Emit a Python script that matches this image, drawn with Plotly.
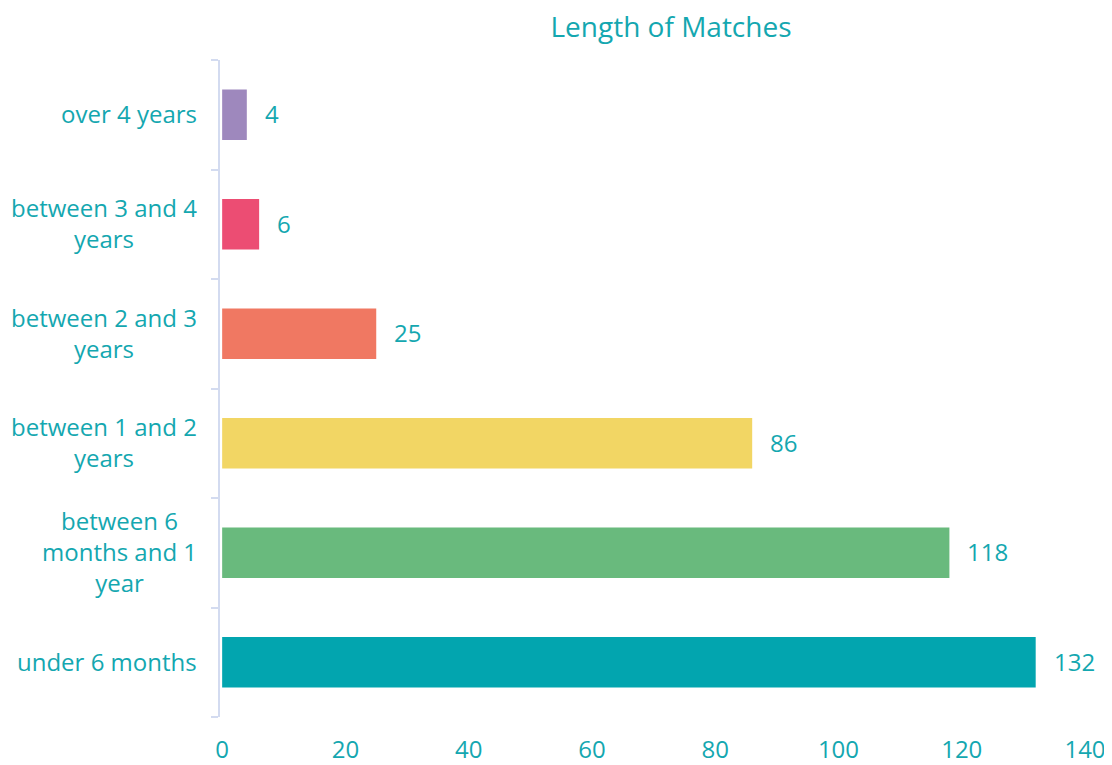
import plotly.graph_objects as go

categories = ["under 6 months", "between 6 months and 1 year", "between 1 and 2 years",
              "between 2 and 3 years", "between 3 and 4 years", "over 4 years"]
tick_labels = ["under 6 months", "between 6<br>months and 1<br>year", "between 1 and 2<br>years",
               "between 2 and 3<br>years", "between 3 and 4<br>years", "over 4 years"]
values = [132, 118, 86, 25, 6, 4]
colors = ["#02A5AF", "#69BA7D", "#F2D664", "#F07862", "#EC4D73", "#9E88BD"]
x_ticks = [0, 20, 40, 60, 80, 100, 120, 140]

TEXT = "#14A7B0"
AXIS = "#D3DBF0"
FONT = "Open Sans"

W, H = 1104, 757  # page body has an 8px margin

fig = go.Figure(go.Bar(
    x=values, y=categories, orientation="h",
    marker=dict(color=colors, line=dict(width=0)),
    hoverinfo="x+y",
))

annotations = []
for cat, lab in zip(categories, tick_labels):
    annotations.append(dict(x=0, xref="paper", y=cat, yref="y", text=lab,
                            xanchor="right", yanchor="middle", align="center",
                            xshift=-21, yshift=1, showarrow=False,
                            font=dict(family=FONT, size=24, color=TEXT)))
for cat, v in zip(categories, values):
    annotations.append(dict(x=v, xref="x", y=cat, yref="y", text=str(v),
                            xanchor="left", yanchor="middle", xshift=16, yshift=1,
                            showarrow=False,
                            font=dict(family=FONT, size=24, color=TEXT)))

fig.update_layout(
    width=W, height=H,
    margin=dict(l=212, r=27, t=52, b=48, autoexpand=False),
    paper_bgcolor="white", plot_bgcolor="white",
    bargap=0.54,
    showlegend=False,
    font=dict(family=FONT, size=24, color=TEXT),
    title=dict(text="Length of Matches", x=663 / W, xanchor="center",
               y=1 - 19 / H, yanchor="middle", yref="container",
               font=dict(family=FONT, size=28, color=TEXT)),
    xaxis=dict(range=[-0.35, 140], tickvals=x_ticks, showgrid=False, zeroline=False,
               showline=False, ticks="", ticklabelstandoff=16, automargin=False,
               tickfont=dict(family=FONT, size=24, color=TEXT)),
    yaxis=dict(categoryorder="array", categoryarray=categories, showgrid=False,
               zeroline=False, showline=True, linecolor=AXIS, linewidth=2,
               ticks="outside", tickson="boundaries", ticklen=7, tickcolor=AXIS,
               tickwidth=2, showticklabels=False, automargin=False),
    annotations=annotations,
)

fig.write_html("out.html")
